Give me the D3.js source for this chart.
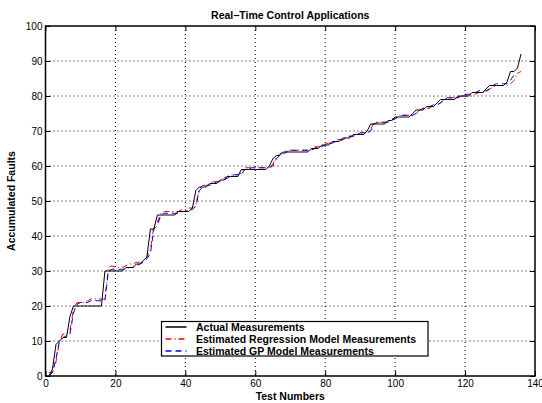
<!DOCTYPE html>
<html>
<head>
<meta charset="utf-8">
<script src="https://cdn.jsdelivr.net/npm/d3@7"></script>
<style>
  body { margin: 0; background: #fff; }
  text { font-family: "Liberation Sans", Arial, sans-serif; }
</style>
</head>
<body>
<div id="chart"></div>
<script>
// data
var xTicks = [0, 20, 40, 60, 80, 100, 120, 140];
var yTicks = [0, 10, 20, 30, 40, 50, 60, 70, 80, 90, 100];

var actual = [
  0, 2, 9, 10, 11, 11, 17, 20, 20, 20,
  20, 20, 20, 20, 20, 20, 30, 30, 30, 30,
  30, 30, 31, 31, 31, 32, 32, 33, 34, 42,
  42, 46, 46, 46, 46, 46, 46, 47, 47, 47,
  47, 48, 53, 54, 54, 54, 55, 55, 55, 56,
  56, 57, 57, 57, 57, 59, 59, 59, 59, 59,
  59, 59, 59, 60, 62, 63, 63, 64, 64, 64,
  64, 64, 64, 64, 64, 65, 65, 65, 66, 66,
  66, 67, 67, 67, 68, 68, 68, 69, 69, 69,
  69, 70, 72, 72, 72, 72, 72, 73, 73, 74,
  74, 74, 74, 74, 75, 76, 76, 76, 77, 77,
  77, 78, 79, 79, 79, 79, 79, 80, 80, 80,
  80, 81, 81, 81, 81, 82, 83, 83, 83, 83,
  83, 84, 87, 87, 88, 92
];

var regression = [
  1, 1, 4, 10, 12, 12, 13, 19, 21, 21,
  21, 21.5, 22, 22, 22, 22, 22, 31, 31.5, 31,
  31, 31, 31.5, 32, 32, 32.5, 32.5, 33, 34, 36,
  43, 44, 46.5, 47, 47, 47, 47, 47, 47.5, 47.5,
  48, 48, 49, 53.5, 54.5, 54.5, 55, 55.5, 55.5, 56,
  56.5, 57, 57.5, 57.5, 57.5, 58, 59.5, 59.5, 59.5, 59.5,
  59.5, 59.5, 59.5, 59.5, 60.5, 62.5, 63.5, 64, 64.5, 64.5,
  64.5, 64.5, 64.5, 64.5, 64.5, 64.5, 65.5, 65.5, 65.5, 66.5,
  66.5, 66.5, 67.5, 67.5, 67.5, 68.5, 68.5, 68.5, 69.5, 69.5,
  69.5, 69.5, 70.5, 72.5, 72.5, 72.5, 72.5, 72.5, 73.5, 73.5,
  74.5, 74.5, 74.5, 74.5, 74.5, 75, 76, 76.5, 76.5, 76.5,
  77.5, 77.5, 78, 79, 79.5, 79.5, 79.5, 79.5, 80, 80,
  80, 80, 80.5, 81, 81, 81, 82, 82.5, 83, 83,
  83, 83, 83.5, 84.5, 86.5, 87
];

var gp = [
  0, 1, 5, 10, 11, 11.5, 12, 18, 20.5, 21,
  21, 21, 21.5, 21.5, 21.5, 21.5, 21.5, 30, 30.5, 30.5,
  30.5, 30.5, 30.5, 31, 31, 31.5, 32, 32.5, 33.5, 35,
  42, 43, 46, 46.5, 46.5, 46.5, 46.5, 46.5, 47, 47,
  47.5, 47.5, 48.5, 53, 54, 54.5, 54.5, 55, 55.5, 55.5,
  56, 56.5, 57, 57.5, 57.5, 57.5, 59, 59, 59.5, 59.5,
  59.5, 59.5, 59.5, 59.5, 60, 62, 63, 63.5, 64, 64.5,
  64.5, 64.5, 64.5, 64.5, 64.5, 64.5, 65, 65.5, 65.5, 66,
  66.5, 66.5, 67, 67.5, 67.5, 68, 68.5, 68.5, 69, 69.5,
  69.5, 69.5, 70, 72, 72.5, 72.5, 72.5, 72.5, 73, 73.5,
  74, 74.5, 74.5, 74.5, 74.5, 75, 76, 76.5, 76.5, 77,
  77.5, 77.5, 78, 79, 79.5, 79.5, 79.5, 79.5, 80, 80.5,
  80.5, 80.5, 81, 81.5, 81.5, 81.5, 82, 83, 83.5, 83.5,
  83.5, 83.5, 84.5, 86, 86.5
];

var legendLabels = ["Actual Measurements", "Estimated Regression Model Measurements", "Estimated GP Model Measurements"];

// set the dimensions and margins of the graph
var margin = { top: 26, right: 7, bottom: 27, left: 45.5 },
  width = 542 - margin.left - margin.right,
  height = 403 - margin.top - margin.bottom;

var svg = d3.select("#chart")
  .append("svg")
  .attr("width", 542)
  .attr("height", 403)
  .append("g")
  .attr("transform", "translate(" + margin.left + "," + margin.top + ")");

var x = d3.scaleLinear().domain([0, 140]).range([0, width]);
var y = d3.scaleLinear().domain([0, 100]).range([height, 0]);

// dotted grid
svg.selectAll(".gx")
  .data(xTicks.slice(1, -1))
  .enter().append("line")
  .attr("x1", function (d) { return x(d); })
  .attr("x2", function (d) { return x(d); })
  .attr("y1", 0).attr("y2", height)
  .attr("stroke", "#000").attr("stroke-width", 1)
  .style("stroke-dasharray", "1,3");
svg.selectAll(".gy")
  .data(yTicks.slice(1, -1))
  .enter().append("line")
  .attr("x1", 0).attr("x2", width)
  .attr("y1", function (d) { return y(d); })
  .attr("y2", function (d) { return y(d); })
  .attr("stroke", "#000").attr("stroke-width", 1)
  .style("stroke-dasharray", "1,3");

// axes with inward ticks
svg.append("g")
  .attr("transform", "translate(0," + height + ")")
  .call(d3.axisBottom(x).tickValues(xTicks).tickSize(-5).tickPadding(4))
  .call(function (g) { g.select(".domain").remove(); })
  .selectAll("text").style("font-size", "10px").attr("fill", "#000");
svg.append("g")
  .call(d3.axisTop(x).tickValues(xTicks).tickSize(-5).tickFormat(""))
  .call(function (g) { g.select(".domain").remove(); });
svg.append("g")
  .call(d3.axisLeft(y).tickValues(yTicks).tickSize(-5).tickPadding(3))
  .call(function (g) { g.select(".domain").remove(); })
  .selectAll("text").style("font-size", "10px").attr("fill", "#000");
svg.append("g")
  .attr("transform", "translate(" + width + ",0)")
  .call(d3.axisRight(y).tickValues(yTicks).tickSize(-5).tickFormat(""))
  .call(function (g) { g.select(".domain").remove(); });

// the lines
function lineFor(arr) {
  return d3.line()
    .x(function (d, i) { return x(i + 1); })
    .y(function (d) { return y(d); })(arr);
}

svg.append("path")
  .attr("d", lineFor(regression))
  .attr("fill", "none").attr("stroke", "#ff0000").attr("stroke-width", 1)
  .style("stroke-dasharray", "6,3,1,3");
svg.append("path")
  .attr("d", lineFor(gp))
  .attr("fill", "none").attr("stroke", "#0000ff").attr("stroke-width", 1)
  .style("stroke-dasharray", "6,4");
svg.append("path")
  .attr("d", lineFor(actual))
  .attr("fill", "none").attr("stroke", "#000").attr("stroke-width", 1);

// frame
svg.append("rect")
  .attr("width", width).attr("height", height)
  .attr("fill", "none").attr("stroke", "#000").attr("stroke-width", 1.5);

// title and labels
svg.append("text")
  .attr("x", width / 2).attr("y", -7)
  .attr("text-anchor", "middle")
  .style("font-size", "10.5px").style("font-weight", "bold")
  .text("Real\u2212Time Control Applications");
svg.append("text")
  .attr("x", width / 2).attr("y", height + 24)
  .attr("text-anchor", "middle")
  .style("font-size", "10.5px").style("font-weight", "bold")
  .text("Test Numbers");
svg.append("text")
  .attr("transform", "translate(-31," + (height / 2) + ") rotate(-90)")
  .attr("text-anchor", "middle")
  .style("font-size", "10.5px").style("font-weight", "bold")
  .text("Accumulated Faults");

// legend
var legend = svg.append("g")
  .attr("transform", "translate(" + (161.5 - margin.left) + "," + (321.5 - margin.top) + ")");
legend.append("rect")
  .attr("width", 266.5).attr("height", 34.5)
  .attr("fill", "#fff").attr("stroke", "#000").attr("stroke-width", 1.2);
var styles = [
  { color: "#000", dash: null },
  { color: "#ff0000", dash: "6,3,1,3" },
  { color: "#0000ff", dash: "6,4" }
];
legendLabels.forEach(function (label, i) {
  var ly = 5.5 + i * 12;
  legend.append("line")
    .attr("x1", 4).attr("x2", 25)
    .attr("y1", ly).attr("y2", ly)
    .attr("stroke", styles[i].color).attr("stroke-width", 1.5)
    .style("stroke-dasharray", styles[i].dash);
  legend.append("text")
    .attr("x", 34.5).attr("y", ly + 4)
    .style("font-size", "10.5px").style("font-weight", "bold")
    .text(label);
});
</script>
</body>
</html>
